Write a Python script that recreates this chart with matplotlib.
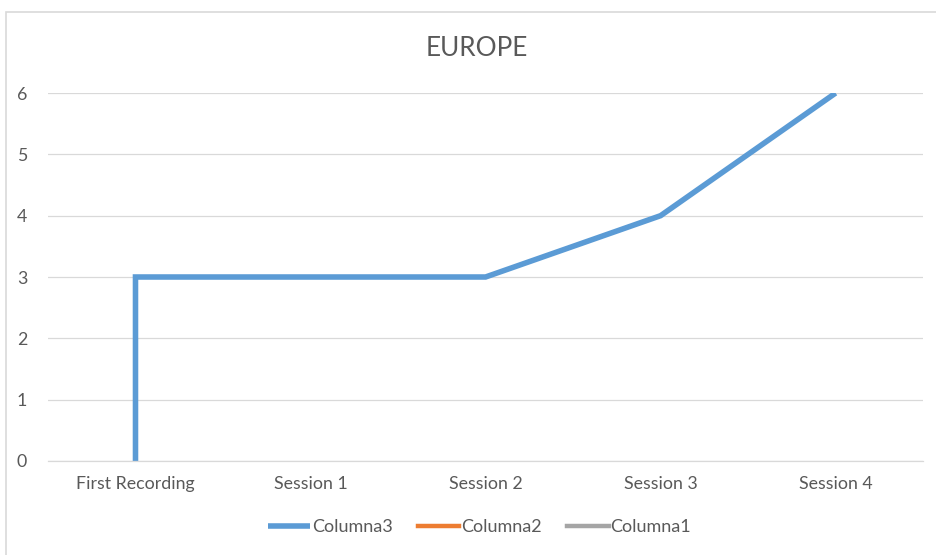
import matplotlib.pyplot as plt
from matplotlib.patches import Rectangle

categories = ['First Recording', 'Session 1', 'Session 2', 'Session 3', 'Session 4']
# the series starts at 0 on the first category and jumps straight up to 3
col3_x = [0, 0, 1, 2, 3, 4]
col3_y = [0, 3, 3, 3, 4, 6]
col2_y = []
col1_y = []

plt.rcParams['font.family'] = ['Lato', 'DejaVu Sans']
text_color = '#595959'

fig = plt.figure(figsize=(9.37, 5.55), dpi=100)
ax = fig.add_axes([0.0512, 0.1694, 0.934, 0.663])

# light chart border like the Excel chart area
fig.patches.append(Rectangle((6 / 937, -0.1), 1.2, 1 - 12 / 555 + 0.1,
                             transform=fig.transFigure, fill=False,
                             edgecolor='#D9D9D9', linewidth=1.2))

ax.plot(col3_x, col3_y, color='#5B9BD5', linewidth=4.0,
        solid_joinstyle='miter', solid_capstyle='butt', label='Columna3')
ax.plot([], [], color='#ED7D31', linewidth=3.2, label='Columna2')
ax.plot([], [], color='#A5A5A5', linewidth=3.2, label='Columna1')

ax.set_xlim(-0.5, len(categories) - 0.5)
ax.set_ylim(0, 6)
ax.set_xticks(range(len(categories)))
ax.set_xticklabels(categories)
ax.set_yticks(range(0, 7))

ax.grid(True, axis='y', color='#D9D9D9', linewidth=0.9)
ax.set_axisbelow(True)
for s in ['top', 'right', 'left']:
    ax.spines[s].set_visible(False)
ax.spines['bottom'].set_color('#D9D9D9')
ax.spines['bottom'].set_linewidth(0.9)

ax.tick_params(axis='both', length=0, labelsize=12.8, labelcolor=text_color)
ax.tick_params(axis='y', pad=15)
ax.tick_params(axis='x', pad=11)

fig.text(0.509, 0.913, 'EUROPE', ha='center', va='center',
         fontsize=18.8, color=text_color)

fig.legend(loc='center', bbox_to_anchor=(0.512, 0.05), ncol=3, frameon=False,
           fontsize=13, labelcolor=text_color, handlelength=2.3,
           handletextpad=0.1, columnspacing=1.4)

plt.savefig('out.png', dpi=100)
